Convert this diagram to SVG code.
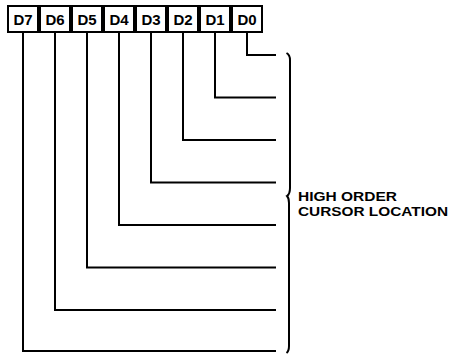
<svg xmlns="http://www.w3.org/2000/svg" width="451" height="354" viewBox="0 0 451 354">
<style>
.box{fill:#fff;stroke:#000;stroke-width:2}
.lbl{font-family:"Liberation Sans",Arial,sans-serif;font-weight:bold;font-size:15px;fill:#000;text-anchor:middle}
.wire{fill:none;stroke:#000;stroke-width:2}
.note{font-family:"Liberation Sans",Arial,sans-serif;font-weight:bold;font-size:13px;fill:#000}
</style>
<rect width="451" height="354" fill="#fff"/>
<g id="D7"><rect class="box" x="8" y="6" width="30" height="26"/><text class="lbl" x="23" y="25">D7</text></g>
<g id="D6"><rect class="box" x="40" y="6" width="30" height="26"/><text class="lbl" x="55" y="25">D6</text></g>
<g id="D5"><rect class="box" x="72" y="6" width="30" height="26"/><text class="lbl" x="87" y="25">D5</text></g>
<g id="D4"><rect class="box" x="104" y="6" width="30" height="26"/><text class="lbl" x="119" y="25">D4</text></g>
<g id="D3"><rect class="box" x="136" y="6" width="30" height="26"/><text class="lbl" x="151" y="25">D3</text></g>
<g id="D2"><rect class="box" x="168" y="6" width="30" height="26"/><text class="lbl" x="183" y="25">D2</text></g>
<g id="D1"><rect class="box" x="200" y="6" width="30" height="26"/><text class="lbl" x="215" y="25">D1</text></g>
<g id="D0"><rect class="box" x="232" y="6" width="30" height="26"/><text class="lbl" x="247" y="25">D0</text></g>
<g id="connectors">
<path class="wire" d="M247 33V55H276"/>
<path class="wire" d="M215 33V97.5H276"/>
<path class="wire" d="M183 33V140H276"/>
<path class="wire" d="M151 33V182.5H276"/>
<path class="wire" d="M119 33V225H276"/>
<path class="wire" d="M87 33V267.5H276"/>
<path class="wire" d="M55 33V310H276"/>
<path class="wire" d="M23 33V351H276"/>
</g>
<g id="brace">
<path d="M286.5 53Q290 55 290 60V188Q290 194 287 196Q289 198 289 203V346Q289 351 286.5 353" fill="none" stroke="#000" stroke-width="2"/>
</g>
<g id="label">
<text class="note" x="298" y="201" textLength="99" lengthAdjust="spacingAndGlyphs">HIGH ORDER</text>
<text class="note" x="298" y="216" textLength="150" lengthAdjust="spacingAndGlyphs">CURSOR LOCATION</text>
</g>
</svg>
